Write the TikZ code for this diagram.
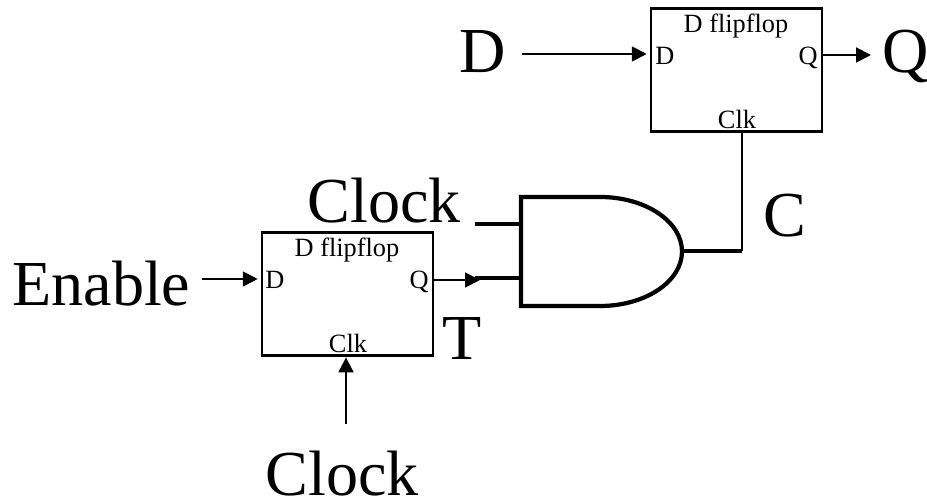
\documentclass[tikz,border=0pt]{standalone}
\usepackage{fontspec}
\setmainfont{Liberation Serif}
\usetikzlibrary{arrows.meta}
\tikzset{
  ffbox/.style = {draw, line width=1.2pt, minimum width=97pt, minimum height=70pt, inner sep=0pt},
  biglabel/.style = {font=\fontsize{36.5}{38}\selectfont, inner sep=0pt},
  pinlabel/.style = {font=\fontsize{15}{16}\selectfont, inner sep=0pt},
  sig/.style = {line width=1.1pt, -{Triangle[length=8.5pt,width=8.5pt]}},
  wire/.style = {line width=1.4pt},
  heavy/.style = {line width=2.4pt},
}

\begin{document}
\begin{tikzpicture}[x=.02cm,y=-.02cm]
\useasboundingbox (0,0) rectangle (927,502);
% flipflops
\node[ffbox] (ffT) at (736.5,70) {};
\node[ffbox] (ffE) at (347.5,294) {};
\node[pinlabel,anchor=base] (ffTname) at (736,33) {D flipflop};
\node[pinlabel,anchor=base west] (ffTd) at (655,65) {D};
\node[pinlabel,anchor=base east] (ffTq) at (818,65) {Q};
\node[pinlabel,anchor=base] (ffTclk) at (737,129) {Clk};
\node[pinlabel,anchor=base] (ffEname) at (347,257) {D flipflop};
\node[pinlabel,anchor=base west] (ffEd) at (265,289) {D};
\node[pinlabel,anchor=base east] (ffEq) at (429,289) {Q};
\node[pinlabel,anchor=base] (ffEclk) at (348,353) {Clk};
% labels
\node[biglabel,anchor=base] (inD) at (483,73) {D};
\node[biglabel,anchor=base] (outQ) at (906,73) {Q};
\node[biglabel,anchor=base] (lblC) at (785,237) {C};
\node[biglabel,anchor=base] (lblT) at (462,360) {T};
\node[biglabel,anchor=base] (clkA) at (384,223) {Clock};
\node[biglabel,anchor=base west] (inEn) at (12,306) {Enable};
\node[biglabel,anchor=base] (clkB) at (342,496) {Clock};
% and gate
\coordinate (andA) at (521,224);
\coordinate (andB) at (521,278);
\coordinate (andOut) at (682,251);
\coordinate (stubA) at (475,224);
\coordinate (stubB) at (475,278);
\coordinate (turn) at (742,251);
\draw[heavy] (521,197) -- (600,197) arc[start angle=-90,end angle=90,x radius=82,y radius=54.5] -- (521,306) -- cycle;
\draw[heavy] (stubA) -- (andA);
\draw[heavy] (stubB) -- (andB);
\draw[heavy] (andOut) -- (turn);
\draw[wire] (turn) -- (turn |- ffT.south);
% arrows
\coordinate (dStart) at (522,54);
\coordinate (qEnd) at (871,55);
\coordinate (enStart) at (202,279);
\coordinate (tEnd) at (480,280);
\coordinate (clkStart) at (346,424);
\draw[sig,shorten >=2pt] (dStart) -- (dStart -| ffT.west);
\draw[sig] (ffT.east |- qEnd) -- (qEnd);
\draw[sig,shorten >=2pt] (enStart) -- (enStart -| ffE.west);
\draw[sig] (ffE.east |- tEnd) -- (tEnd);
\draw[sig,shorten >=.5pt] (clkStart) -- (clkStart |- ffE.south);
\end{tikzpicture}
\end{document}
